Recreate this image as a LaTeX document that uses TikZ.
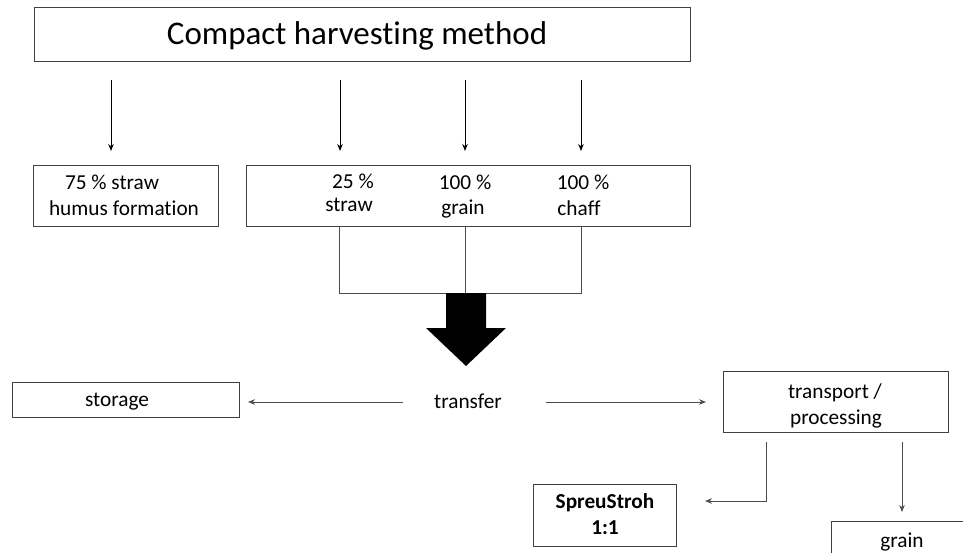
\documentclass[tikz,border=0pt]{standalone}
\usepackage{fontspec}
\setmainfont[Ligatures={NoCommon}]{Carlito}
\usetikzlibrary{arrows.meta}
\begin{document}
\begin{tikzpicture}[x=1pt,y=-1pt,
  box/.style={draw=black!75, line width=1pt, inner sep=0pt, outer sep=0pt, fill=white},
  txt/.style={font=\fontsize{21.3}{26}\selectfont, inner sep=0pt, text height=15pt, text depth=3pt},
  conn/.style={draw=black!70, line width=0.9pt},
  arr/.style={conn, -{Stealth[length=7pt,width=5.5pt]}}]
\clip (0,0) rectangle (963,553);
\fill[white] (0,0) rectangle (963,553);

% title
\node[box, minimum width=656pt, minimum height=54pt] (title) at (362,35) {};
\node[inner sep=0pt, text height=24pt, text depth=4pt, font=\fontsize{33}{40}\selectfont] (tt) at (357,35) {Compact harvesting method};

% second row boxes
\node[box, minimum width=185pt, minimum height=61pt] (lbox) at (125.5,196.5) {};
\node[txt] (l1) at (112,184) {75 \% straw};
\node[txt] (l2) at (124,210) {humus formation};

\node[box, minimum width=444pt, minimum height=61pt] (mbox) at (468,196.5) {};
\node[txt] (s1) at (353,183) {25 \%};
\node[txt] (s2) at (349,206) {straw};
\node[txt] (g1) at (465,184) {100 \%};
\node[txt] (g2) at (463,209) {grain};
\node[txt] (c1) at (583,184) {100 \%};
\node[txt] (c2) at (579,210) {chaff};

% arrows from title
\coordinate (a1s) at (111,80);  \coordinate (a1e) at (111,151);
\coordinate (a2s) at (340,80);  \coordinate (a2e) at (340,151);
\coordinate (a3s) at (465,80);  \coordinate (a3e) at (465,151);
\coordinate (a4s) at (581,80);  \coordinate (a4e) at (581,151);
\draw[arr, draw=black] (a1s) -- (a1e);
\draw[arr, draw=black] (a2s) -- (a2e);
\draw[arr, draw=black] (a3s) -- (a3e);
\draw[arr, draw=black] (a4s) -- (a4e);

% bracket
\coordinate (jL) at (339,293);
\coordinate (jM) at (465,293);
\coordinate (jR) at (581,293);
\draw[conn] (mbox.south -| jL) -- (jL) -- (jR) -- (mbox.south -| jR);
\draw[conn] (mbox.south -| jM) -- (jM);

% big arrow
\fill[black] (446,293) -- (486,293) -- (486,328) -- (506,328) -- (466,366) -- (426,328) -- (446,328) -- cycle;

% transfer row
\node[txt] (transfer) at (468,402) {transfer};
\node[box, minimum width=227pt, minimum height=35pt] (storage) at (125.5,399.5) {};
\node[txt] (stt) at (117,400) {storage};
\node[box, minimum width=225pt, minimum height=61pt] (tbox) at (835.5,401.5) {};
\node[txt] (t1) at (835,392) {transport /};
\node[txt] (t2) at (836,418) {processing};

\draw[arr, shorten <=31pt, shorten >=9pt] (transfer.west) -- (storage.east |- transfer.west);
\draw[arr, shorten <=44pt, shorten >=17pt] (transfer.east) -- (tbox.west |- transfer.east);

% bottom row
\node[box, minimum width=143pt, minimum height=62pt] (sbox) at (604.5,515) {};
\node[txt, font=\fontsize{21.3}{26}\selectfont\bfseries] (sp1) at (605,502) {SpreuStroh};
\node[txt, font=\fontsize{21.3}{26}\selectfont\bfseries] (sp2) at (605,528) {1:1};

\node[box, minimum width=142pt, minimum height=62pt] (gbox) at (902,552) {};
\node[txt] (gt) at (902,541) {grain};

\coordinate (k1) at (766,501);
\draw[arr, shorten <=10pt, shorten >=29pt] (tbox.south -| k1) -- (k1) -- (sbox.east |- k1);
\draw[arr, shorten <=10pt, shorten >=9pt] (tbox.south -| gbox.north) -- (gbox.north);
\end{tikzpicture}
\end{document}
